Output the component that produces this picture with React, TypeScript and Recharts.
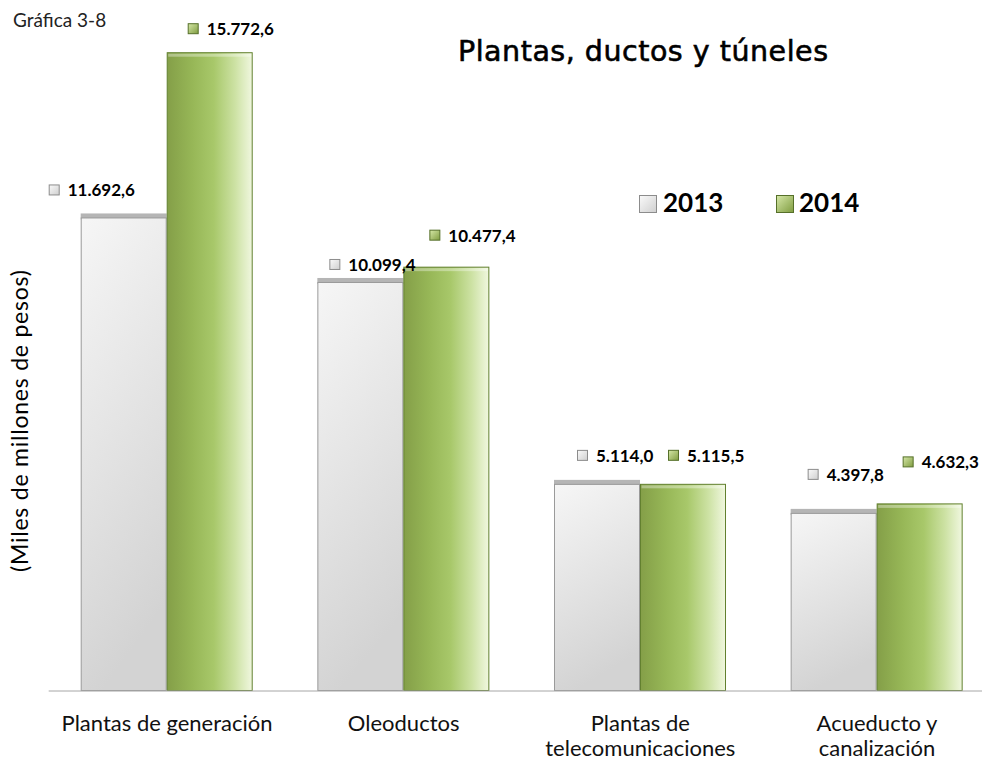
import { BarChart, Bar, XAxis, YAxis, LabelList } from 'recharts';

const categories = [
    'Plantas de generación',
    'Oleoductos',
    'Plantas de\ntelecomunicaciones',
    'Acueducto y\ncanalización',
];
const values2013 = [11692.6, 10099.4, 5114.0, 4397.8];
const values2014 = [15772.6, 10477.4, 5115.5, 4632.3];
const seriesNames = ['2013', '2014'];

const chartData = categories.map((name, i) => ({
    name,
    y2013: values2013[i],
    y2014: values2014[i],
}));

// labels were dragged around by hand in the original: [marker left from bar centre, label middle from bar top]
const labelNudge2013 = [[-75, -27], [-31, -17], [-20, -28], [-26, -38]];
const labelNudge2014 = [[-22, -23], [-17, -31], [-15, -28], [-17, -41]];

function fmt(v: number) {
    const [i, d] = v.toFixed(1).split('.');
    return i.replace(/\B(?=(\d{3})+(?!\d))/g, '.') + ',' + d;
}

function makeLabel(nudge: number[][], fillId: string, stroke: string) {
    return (props: any) => {
        const { x, y, width, value, index } = props;
        const cx = Number(x) + Number(width) / 2;
        const [dx, dy] = nudge[index] || [0, -25];
        const left = cx + dx;
        const mid = Number(y) + dy;
        return (
            <g>
                <rect x={left + 0.5} y={mid - 5.5} width={10} height={10} fill={`url(#${fillId})`} stroke={stroke} />
                <text x={left + 19} y={mid + 6} fontFamily="Lato" fontWeight={700} fontSize={17} fill="#000">
                    {fmt(Number(value))}
                </text>
            </g>
        );
    };
}

const Shape2013 = (p: any) => {
    const { x, y, width, height } = p;
    if (!height) return <g />;
    return (
        <g>
            <rect x={x} y={y - 4} width={width} height={6} fill="#a3a3a3" opacity={0.8} />
            <rect x={x + 0.5} y={y + 0.5} width={width - 1} height={height - 1} fill="url(#g2013)" stroke="#9a9a9a" />
        </g>
    );
};

const Shape2014 = (p: any) => {
    const { x, y, width, height } = p;
    if (!height) return <g />;
    return (
        <g>
            <rect x={x + 0.5} y={y + 0.5} width={width - 1} height={height - 1} fill="url(#g2014)" stroke="#62802f" />
            <rect x={x + 1.5} y={y + 1.5} width={width - 3} height={3} fill="#ffffff" opacity={0.35} />
        </g>
    );
};

const CategoryTick = (props: any) => {
    const { x, y, payload } = props;
    const lines = String(payload.value).split('\n');
    return (
        <text x={x} y={y} textAnchor="middle" fontFamily="Lato" fontSize={22} fill="#111">
            {lines.map((l, i) => (
                <tspan key={i} x={x} dy={i === 0 ? 40 : 25}>{l}</tspan>
            ))}
        </text>
    );
};

export default function App() {
    return (
        <div style={{ position: 'fixed', left: 0, top: 0, width: 982, height: 761, overflow: 'hidden', background: '#fff' }}>
            <BarChart
                width={1000}
                height={761}
                data={chartData}
                margin={{ top: 43, right: 4.7, left: 48.7, bottom: 0 }}
                barGap={0}
                barSize={86}
            >
                <defs>
                    <linearGradient id="g2013" x1="0" y1="0" x2="0.25" y2="1">
                        <stop offset="0%" stopColor="#f6f6f6" />
                        <stop offset="100%" stopColor="#d3d3d3" />
                    </linearGradient>
                    <linearGradient id="g2014" x1="0" y1="0" x2="1" y2="0">
                        <stop offset="0%" stopColor="#849f48" />
                        <stop offset="30%" stopColor="#97b757" />
                        <stop offset="55%" stopColor="#a8c86a" />
                        <stop offset="80%" stopColor="#cde2a4" />
                        <stop offset="100%" stopColor="#f0f7df" />
                    </linearGradient>
                    <linearGradient id="m2013" x1="0" y1="0" x2="1" y2="1">
                        <stop offset="0%" stopColor="#fafafa" />
                        <stop offset="100%" stopColor="#cfcfcf" />
                    </linearGradient>
                    <linearGradient id="m2014" x1="0" y1="0" x2="1" y2="1">
                        <stop offset="0%" stopColor="#d6e8a8" />
                        <stop offset="100%" stopColor="#7f9c40" />
                    </linearGradient>
                </defs>
                <YAxis hide domain={[0, 16000]} />
                <XAxis
                    dataKey="name"
                    height={70}
                    interval={0}
                    tickLine={false}
                    tickSize={0}
                    tickMargin={0}
                    axisLine={{ stroke: '#a6a6a6' }}
                    tick={<CategoryTick />}
                />
                <Bar dataKey="y2013" name={seriesNames[0]} shape={<Shape2013 />} isAnimationActive={false}>
                    <LabelList dataKey="y2013" content={makeLabel(labelNudge2013, 'm2013', '#8c8c8c')} />
                </Bar>
                <Bar dataKey="y2014" name={seriesNames[1]} shape={<Shape2014 />} isAnimationActive={false}>
                    <LabelList dataKey="y2014" content={makeLabel(labelNudge2014, 'm2014', '#56702a')} />
                </Bar>
            </BarChart>

            <svg width={982} height={761} style={{ position: 'absolute', left: 0, top: 0, pointerEvents: 'none' }}>
                <text x={13} y={27} fontFamily="Lato" fontSize={19} fill="#222">Gráfica 3-8</text>
                <text
                    x={458}
                    y={61}
                    fontFamily="DejaVu Sans"
                    fontSize={28.5}
                    fill="#000"
                    stroke="#000"
                    strokeWidth={0.6}
                    textLength={370}
                    lengthAdjust="spacing"
                >
                    Plantas, ductos y túneles
                </text>
                <text
                    x={28}
                    y={421}
                    transform="rotate(-90 28 421)"
                    textAnchor="middle"
                    fontFamily="Lato"
                    fontSize={23}
                    fill="#000"
                    textLength={302}
                    lengthAdjust="spacing"
                >
                    (Miles de millones de pesos)
                </text>
                <rect x={639.5} y={195.5} width={17} height={17} fill="url(#lg2013)" stroke="#8c8c8c" />
                <text x={663} y={212} fontFamily="Lato" fontWeight={700} fontSize={26} fill="#000">{seriesNames[0]}</text>
                <rect x={776.5} y={195.5} width={17} height={17} fill="url(#lg2014)" stroke="#56702a" />
                <text x={799} y={212} fontFamily="Lato" fontWeight={700} fontSize={26} fill="#000">{seriesNames[1]}</text>
                <defs>
                    <linearGradient id="lg2013" x1="0" y1="0" x2="1" y2="1">
                        <stop offset="0%" stopColor="#fafafa" />
                        <stop offset="100%" stopColor="#cfcfcf" />
                    </linearGradient>
                    <linearGradient id="lg2014" x1="0" y1="0" x2="1" y2="1">
                        <stop offset="0%" stopColor="#d6e8a8" />
                        <stop offset="100%" stopColor="#7f9c40" />
                    </linearGradient>
                </defs>
            </svg>
        </div>
    );
}
